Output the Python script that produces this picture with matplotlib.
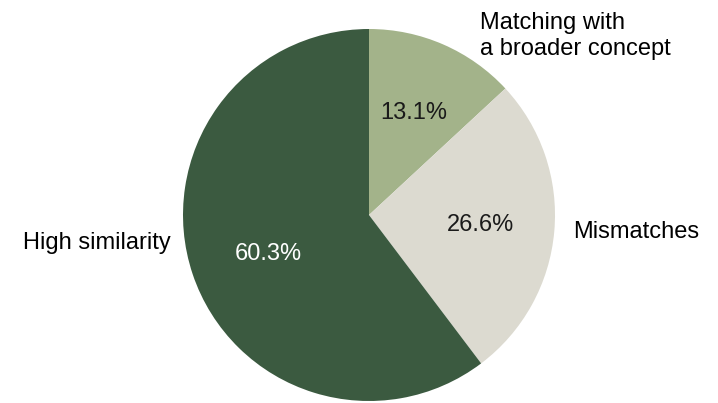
import matplotlib
matplotlib.use("Agg")
import matplotlib.pyplot as plt

labels = ["Matching with\na broader concept", "Mismatches", "High similarity"]
shares = [13.1, 26.6, 60.3]
colors = ["#a3b38a", "#dcdad0", "#3b5a40"]
pct_colors = ["#1a1a1a", "#1a1a1a", "white"]

plt.rcParams["font.family"] = ["Liberation Sans", "DejaVu Sans"]

W, H = 718, 403
fig = plt.figure(figsize=(W / 100, H / 100), dpi=100)
cx, cy, r = 369, 215, 186
ax = fig.add_axes([(cx - r) / W, 1 - (cy + r) / H, 2 * r / W, 2 * r / H])

wedges, texts, autotexts = ax.pie(
    shares, colors=colors, startangle=90, counterclock=False,
    autopct="%.1f%%", pctdistance=0.6, radius=1,
    wedgeprops=dict(linewidth=0),
    textprops=dict(fontsize=17),
)
for t, c in zip(autotexts, pct_colors):
    t.set_color(c)
# small nudge of the big-slice value toward where the original sits
x, y = autotexts[2].get_position()
autotexts[2].set_position((x + 0.03, y - 0.02))
ax.set_xlim(-1, 1)
ax.set_ylim(-1, 1)
ax.set_aspect("equal")
ax.axis("off")

# outside labels
fig.text(480 / W, 1 - 36 / H, labels[0], ha="left", va="center", fontsize=17, linespacing=1.25)
fig.text(573 / W, 1 - 232 / H, labels[1], ha="left", va="center", fontsize=17)
fig.text(171 / W, 1 - 243 / H, labels[2], ha="right", va="center", fontsize=17)

fig.savefig("out.png", dpi=100, facecolor="white")
